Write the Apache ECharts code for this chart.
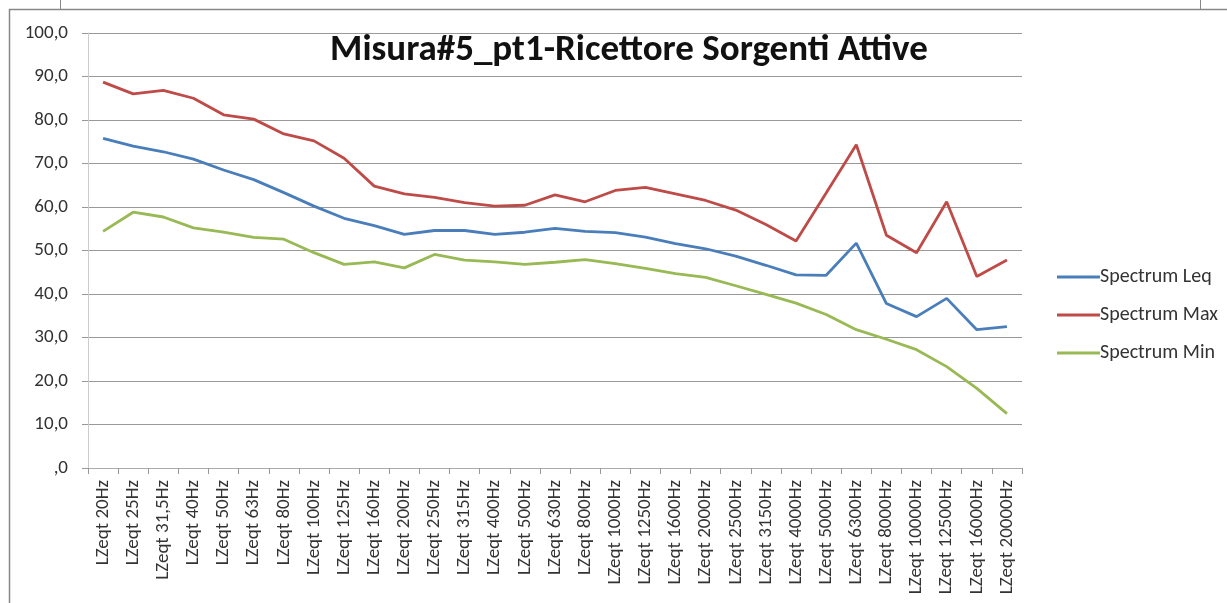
<!DOCTYPE html>
<html>
<head>
<meta charset="utf-8">
<script src="https://cdn.jsdelivr.net/npm/echarts@6/dist/echarts.min.js"></script>
<style>
  html, body { margin: 0; padding: 0; background: #fff; }
  #chart { width: 1227px; height: 603px; }
</style>
</head>
<body>
<div id="chart"></div>
<script>
// bande di frequenza (asse x)
var categories = ['LZeqt 20Hz', 'LZeqt 25Hz', 'LZeqt 31,5Hz', 'LZeqt 40Hz', 'LZeqt 50Hz', 'LZeqt 63Hz',
  'LZeqt 80Hz', 'LZeqt 100Hz', 'LZeqt 125Hz', 'LZeqt 160Hz', 'LZeqt 200Hz', 'LZeqt 250Hz',
  'LZeqt 315Hz', 'LZeqt 400Hz', 'LZeqt 500Hz', 'LZeqt 630Hz', 'LZeqt 800Hz', 'LZeqt 1000Hz',
  'LZeqt 1250Hz', 'LZeqt 1600Hz', 'LZeqt 2000Hz', 'LZeqt 2500Hz', 'LZeqt 3150Hz', 'LZeqt 4000Hz',
  'LZeqt 5000Hz', 'LZeqt 6300Hz', 'LZeqt 8000Hz', 'LZeqt 10000Hz', 'LZeqt 12500Hz', 'LZeqt 16000Hz',
  'LZeqt 20000Hz']

// valori
var spectrumLeq = [75.8, 74.0, 72.7, 71.0, 68.5, 66.3, 63.3, 60.2, 57.4, 55.7, 53.7, 54.6,
  54.6, 53.7, 54.2, 55.1, 54.4, 54.1, 53.1, 51.6, 50.4, 48.7, 46.6, 44.4,
  44.3, 51.7, 37.8, 34.8, 39.0, 31.8, 32.5]
var spectrumMax = [88.7, 86.0, 86.8, 85.0, 81.2, 80.2, 76.8, 75.2, 71.2, 64.8, 63.0, 62.2,
  61.0, 60.2, 60.4, 62.8, 61.2, 63.8, 64.5, 63.0, 61.5, 59.3, 56.0, 52.2,
  63.2, 74.3, 53.5, 49.5, 61.2, 44.0, 47.8]
var spectrumMin = [54.4, 58.8, 57.7, 55.2, 54.2, 53.0, 52.6, 49.5, 46.8, 47.4, 46.0, 49.1,
  47.8, 47.4, 46.8, 47.3, 47.9, 47.0, 45.9, 44.7, 43.8, 41.9, 39.9, 37.9,
  35.3, 31.8, 29.6, 27.2, 23.3, 18.3, 12.5]

var seriesNames = ['Spectrum Leq', 'Spectrum Max', 'Spectrum Min']
var seriesColors = ['#4a7ebb', '#be4b48', '#98b954']

var font = 'Calibri, Carlito, "Open Sans", "Noto Sans", sans-serif'

function makeLine(name, data, color) {
  return {
    name: name,
    type: 'line',
    data: data,
    symbol: 'none',
    smooth: false,
    lineStyle: { color: color, width: 2.8 },
    itemStyle: { color: color }
  }
}

var myChart = echarts.init(document.getElementById('chart'))
var option = {
  backgroundColor: '#fff',
  animation: false,
  title: {
    text: 'Misura#5_pt1-Ricettore Sorgenti Attive',
    left: 624,
    top: 27,
    textAlign: 'center',
    textStyle: { fontFamily: font, fontSize: 37, fontWeight: 'bold', color: '#111' }
  },
  legend: {
    orient: 'vertical',
    left: 1052,
    top: 262,
    itemWidth: 43,
    itemHeight: 3,
    itemGap: 18,
    icon: 'rect',
    textStyle: { fontFamily: font, fontSize: 20, color: '#333', padding: [0, 0, 0, -5] },
    data: seriesNames
  },
  grid: { left: 88, right: 205, top: 33, bottom: 135, containLabel: false },
  xAxis: {
    type: 'category',
    data: categories,
    boundaryGap: true,
    axisLine: { lineStyle: { color: '#aaa', width: 1 } },
    axisTick: { show: true, alignWithLabel: false, length: 6, lineStyle: { color: '#999' } },
    axisLabel: {
      interval: 0,
      rotate: 90,
      margin: 12,
      fontFamily: font,
      fontSize: 19,
      color: '#333'
    },
    splitLine: { show: false }
  },
  yAxis: {
    type: 'value',
    min: 0,
    max: 100,
    interval: 10,
    axisLine: { show: true, lineStyle: { color: '#ccc', width: 1 } },
    axisTick: { show: true, length: 6, lineStyle: { color: '#999' } },
    axisLabel: {
      margin: 20,
      fontFamily: font,
      fontSize: 19,
      color: '#333',
      formatter: function (v) {
        return v === 0 ? ',0' : v.toFixed(1).replace('.', ',')
      }
    },
    splitLine: { lineStyle: { color: '#999', width: 1 } }
  },
  graphic: [
    // bordo del riquadro grafico
    { type: 'rect', shape: { x: 9.5, y: 9.5, width: 1240, height: 620 }, style: { fill: null, stroke: '#888', lineWidth: 1.5 } },
    { type: 'line', shape: { x1: 60.5, y1: 0, x2: 60.5, y2: 9 }, style: { stroke: '#888', lineWidth: 1 } },
    { type: 'line', shape: { x1: 1200.5, y1: 0, x2: 1200.5, y2: 9 }, style: { stroke: '#888', lineWidth: 1 } }
  ],
  series: [
    makeLine(seriesNames[0], spectrumLeq, seriesColors[0]),
    makeLine(seriesNames[1], spectrumMax, seriesColors[1]),
    makeLine(seriesNames[2], spectrumMin, seriesColors[2])
  ]
}
myChart.setOption(option)
</script>
</body>
</html>
